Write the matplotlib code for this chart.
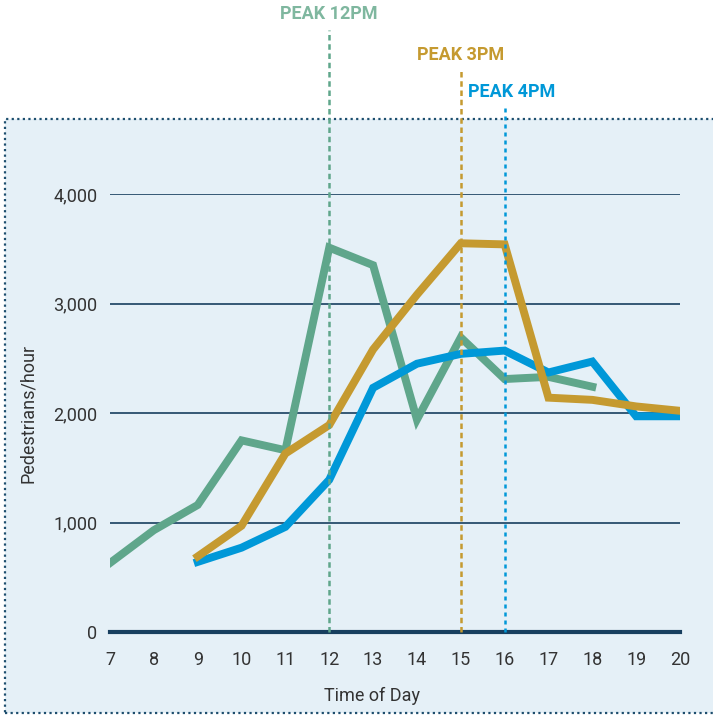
import numpy as np
import matplotlib.pyplot as plt
from matplotlib.patches import Rectangle

# ---------------- data ----------------
hours = [7, 8, 9, 10, 11, 12, 13, 14, 15, 16, 17, 18, 19, 20]
hour_labels = [str(h) for h in hours]

green_x = [7, 8, 9, 10, 11, 12, 13, 14, 15, 16, 17, 18]
green_y = [630, 930, 1160, 1750, 1660, 3510, 3350, 1940, 2690, 2310, 2330, 2240]

gold_x = [9, 10, 11, 12, 13, 14, 15, 16, 17, 18, 19, 20]
gold_y = [690, 970, 1630, 1890, 2580, 3080, 3550, 3540, 2140, 2120, 2060, 2020]

blue_x = [9, 10, 11, 12, 13, 14, 15, 16, 17, 18, 19, 20]
blue_y = [640, 770, 960, 1390, 2230, 2450, 2540, 2570, 2370, 2470, 1970, 1970]

yticks = [0, 1000, 2000, 3000, 4000]
ytick_labels = ['0', '1,000', '2,000', '3,000', '4,000']

peaks = [12, 15, 16]
peak_labels = ['PEAK 12PM', 'PEAK 3PM', 'PEAK 4PM']

# ---------------- colours ----------------
c_green = '#5fa68b'
c_green_txt = '#7fb79f'
c_gold = '#c59a30'
c_blue = '#0098d8'
c_grid = '#173f5f'
c_bg = '#e5f0f7'
c_txt = '#333333'

plt.rcParams['font.family'] = ['Roboto', 'DejaVu Sans']

W, H = 713, 717
fig = plt.figure(figsize=(W / 100, H / 100), dpi=100)

# background panel with dotted border
panel = Rectangle((5 / W, 1 - 713 / H), 1.0, (713 - 119) / H, transform=fig.transFigure,
                  facecolor=c_bg, edgecolor='#1d4e6e', linewidth=1.6,
                  linestyle=(0, (1, 1.5)), zorder=-1)
fig.patches.append(panel)

# axes: x 110..680 px, y 194..632 px
ax = fig.add_axes([110 / W, 1 - 632 / H, (680 - 110) / W, (632 - 194) / H])
ax.set_facecolor('none')
ax.set_xlim(7, 20)
ax.set_ylim(0, 4000)

for y in yticks[1:]:
    ax.axhline(y, color=c_grid, linewidth=1.2, zorder=1)
ax.axhline(0, color=c_grid, linewidth=3.0, zorder=1, clip_on=False)

ax.plot(green_x, green_y, color=c_green, linewidth=5.7, zorder=3, solid_joinstyle='miter')
ax.plot(blue_x, blue_y, color=c_blue, linewidth=5.7, zorder=4, solid_joinstyle='miter')
ax.plot(gold_x, gold_y, color=c_gold, linewidth=5.7, zorder=5, solid_joinstyle='miter')

# peak lines and labels
line_tops = [5500, 5130, 4790]
text_y = [5640, 5270, 4930]
text_x = [12, 15, 16.15]
pk_colors = [c_green, c_gold, c_blue]
txt_colors = [c_green_txt, c_gold, c_blue]
dashes = [(0, (2.2, 1.5)), (0, (2.2, 1.5)), (0, (1.6, 1.6))]
for p, top, ty, tx, c, tc, ls, lab in zip(peaks, line_tops, text_y, text_x,
                                          pk_colors, txt_colors, dashes, peak_labels):
    ax.plot([p, p], [0, top], color=c, linewidth=1.8, linestyle=ls,
            clip_on=False, zorder=6)
    ax.text(tx, ty, lab, color=tc, fontsize=13, fontweight='bold',
            ha='center', va='center', clip_on=False)

ax.set_xticks(hours)
ax.set_xticklabels(hour_labels)
ax.set_yticks(yticks)
ax.set_yticklabels(ytick_labels)
ax.tick_params(length=0, labelsize=13, labelcolor=c_txt)
ax.tick_params(axis='x', pad=14)
ax.tick_params(axis='y', pad=9)

for s in ax.spines.values():
    s.set_visible(False)

ax.set_xlabel('Time of Day', fontsize=13, color=c_txt)
ax.xaxis.set_label_coords((372 - 110) / (680 - 110), -(687 - 632) / (632 - 194))
ax.set_ylabel('Pedestrians/hour', fontsize=13, color=c_txt)
ax.yaxis.set_label_coords(-(110 - 37) / (680 - 110), 0.5)

fig.savefig('out.png', dpi=100)
